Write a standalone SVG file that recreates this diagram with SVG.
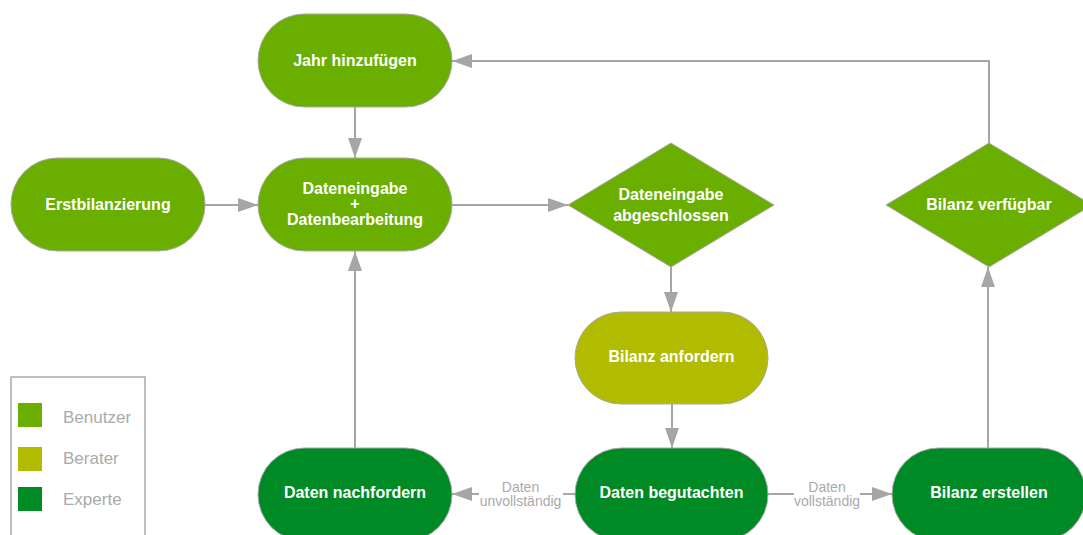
<svg xmlns="http://www.w3.org/2000/svg" width="1083" height="535" viewBox="0 0 1083 535">
<defs>
<marker id="arr" markerUnits="userSpaceOnUse" markerWidth="20" markerHeight="14" refX="20" refY="7" orient="auto">
<path d="M0,0 L20,7 L0,14 z" fill="#a6a6a6"/>
</marker>
<style>
.n{stroke:#a8a8a8;stroke-width:1}
.u{fill:#6aae00}
.b{fill:#b1bb00}
.e{fill:#008a26}
.t{font-family:"Liberation Sans",Arial,sans-serif;font-weight:bold;font-size:16px;fill:#fff;text-anchor:middle}
.c{fill:none;stroke:#a6a6a6;stroke-width:2;marker-end:url(#arr)}
.l{font-family:"Liberation Sans",Arial,sans-serif;font-size:14px;fill:#aaaaaa;text-anchor:middle}
.g{font-family:"Liberation Sans",Arial,sans-serif;font-size:17px;fill:#aaaaaa}
</style>
</defs>
<rect width="1083" height="535" fill="#fff"/>
<g id="connectors">
<path class="c" d="M355,107 L355,158"/>
<path class="c" d="M205,205 L258,205"/>
<path class="c" d="M452,205 L568,205"/>
<path class="c" d="M671,267 L671,312"/>
<path class="c" d="M672,404 L672,448"/>
<path class="c" d="M575,494 L452,494"/>
<path class="c" d="M768,494 L892,494"/>
<path class="c" d="M355,448 L355,251"/>
<path class="c" d="M988,448 L988,267"/>
<path class="c" d="M989,143 L989,61 L452,61"/>
<rect x="479" y="478" width="84" height="32" fill="#fff"/>
<text class="l" x="520.5" y="492">Daten</text>
<text class="l" x="520.5" y="506">unvollständig</text>
<rect x="794" y="478" width="66" height="32" fill="#fff"/>
<text class="l" x="827" y="492">Daten</text>
<text class="l" x="827" y="506">vollständig</text>
</g>
<g id="jahr"><rect class="n u" x="258" y="14" width="194" height="93" rx="46.5"/><text class="t" x="355" y="65.5">Jahr hinzufügen</text></g>
<g id="erst"><rect class="n u" x="11" y="158" width="194" height="93" rx="46.5"/><text class="t" x="108" y="210">Erstbilanzierung</text></g>
<g id="eingabe"><rect class="n u" x="258" y="158" width="194" height="93" rx="46.5"/><text class="t" x="355" y="194">Dateneingabe</text><text class="t" x="355" y="209">+</text><text class="t" x="355" y="225">Datenbearbeitung</text></g>
<g id="abgeschlossen"><polygon class="n u" points="568,205 671,143 774,205 671,267"/><text class="t" x="671" y="200">Dateneingabe</text><text class="t" x="671" y="221">abgeschlossen</text></g>
<g id="anfordern"><rect class="n b" x="575" y="312" width="193" height="92" rx="46"/><text class="t" x="671.5" y="362">Bilanz anfordern</text></g>
<g id="begutachten"><rect class="n e" x="575" y="448" width="193" height="93" rx="46.5"/><text class="t" x="671.5" y="498">Daten begutachten</text></g>
<g id="nachfordern"><rect class="n e" x="258" y="448" width="194" height="93" rx="46.5"/><text class="t" x="355" y="498">Daten nachfordern</text></g>
<g id="erstellen"><rect class="n e" x="892" y="448" width="194" height="93" rx="46.5"/><text class="t" x="989" y="498">Bilanz erstellen</text></g>
<g id="verfuegbar"><polygon class="n u" points="886,205 989,143 1092,205 989,267"/><text class="t" x="989" y="210">Bilanz verfügbar</text></g>
<g id="legend">
<rect x="11" y="377" width="134" height="175" fill="none" stroke="#aaaaaa" stroke-width="1.5"/>
<rect class="u" x="18" y="403" width="24" height="24"/>
<text class="g" x="63" y="423">Benutzer</text>
<rect class="b" x="18" y="447" width="24" height="24"/>
<text class="g" x="63" y="464">Berater</text>
<rect class="e" x="18" y="487" width="24" height="24"/>
<text class="g" x="63" y="505">Experte</text>
</g>
</svg>
